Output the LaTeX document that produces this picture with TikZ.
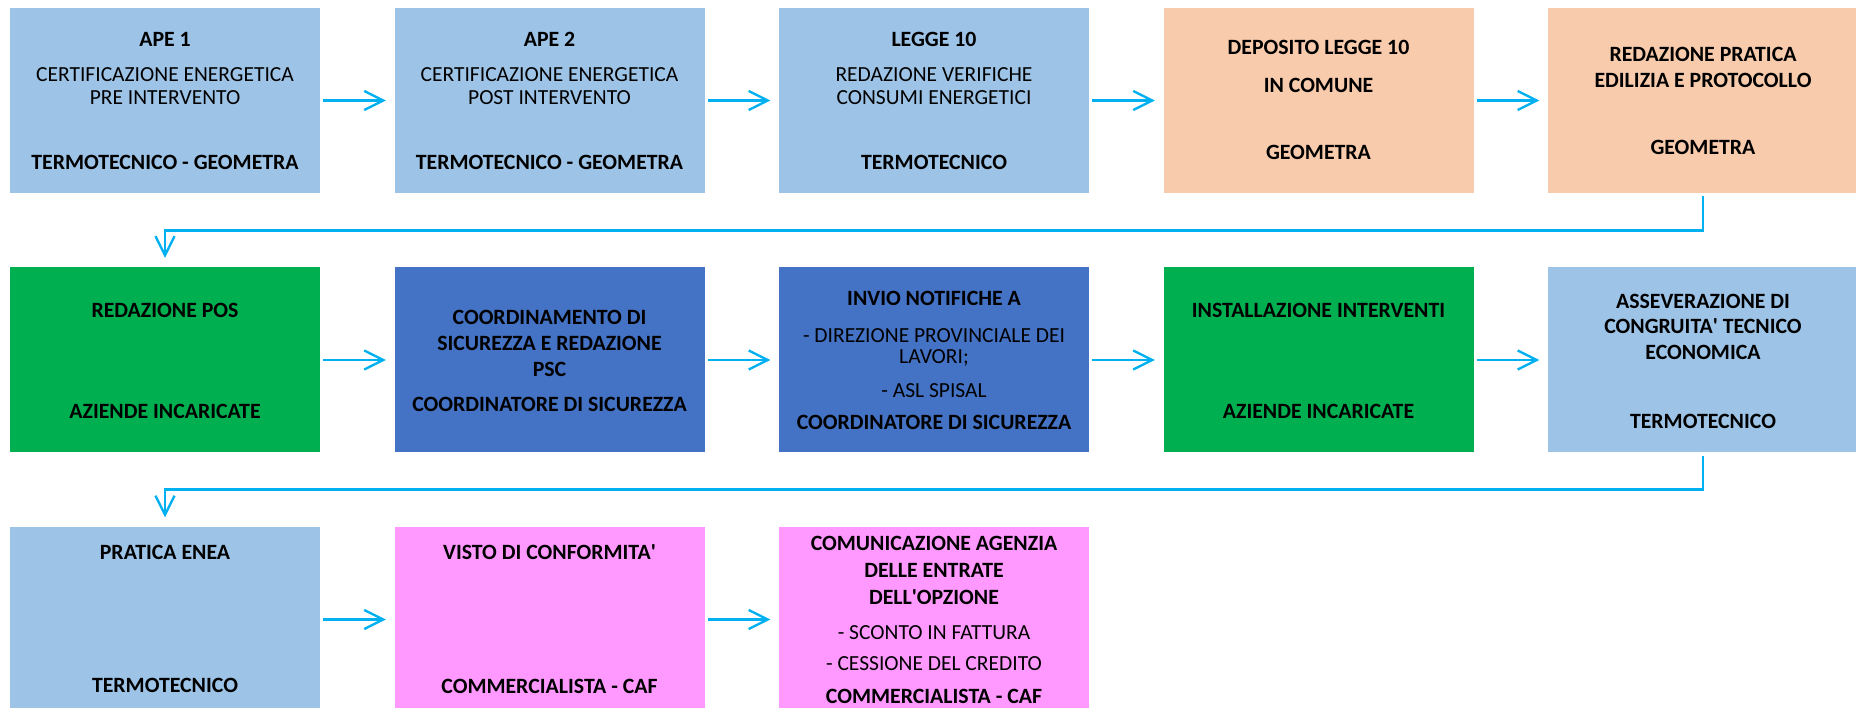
\documentclass[tikz,border=0pt]{standalone}
\usepackage{fontspec}
\setmainfont{Carlito}
\usetikzlibrary{arrows.meta}
\definecolor{lb}{HTML}{9DC3E6}
\definecolor{peach}{HTML}{F8CBAD}
\definecolor{grn}{HTML}{00B050}
\definecolor{blu}{HTML}{4472C4}
\definecolor{pnk}{HTML}{FF99FF}
\definecolor{cy}{HTML}{00B0F0}
\tikzset{
  box/.style={minimum width=310pt,minimum height=185pt,inner sep=0pt,draw=none},
  txt/.style={inner sep=0pt,text height=13.8pt,text depth=0pt,anchor=center,font=\fontsize{21.5pt}{25pt}\selectfont},
  tb/.style={txt,font=\fontsize{21.8pt}{25pt}\selectfont\bfseries},
  tr/.style={txt},
  conn/.style={draw=cy,line width=2.7pt,-{Straight Barb[length=19pt,width=19pt,line width=2.3pt]}},
  hconn/.style={conn,shorten <=3pt,shorten >=8.5pt},
  vconn/.style={conn,shorten <=3pt,shorten >=9.5pt}
}
\newcommand\TB[4]{\node[tb] (#1) at (#2,#3) {#4};}
\newcommand\TR[4]{\node[tr] (#1) at (#2,#3) {#4};}
\begin{document}
\begin{tikzpicture}[x=1pt,y=-1pt]
\useasboundingbox (0,0) rectangle (1856,708);
% row 1
\node[box,fill=lb] (a1) at (165,100.5) {};
\node[box,fill=lb] (a2) at (549.5,100.5) {};
\node[box,fill=lb] (a3) at (934,100.5) {};
\node[box,fill=peach] (a4) at (1318.5,100.5) {};
\node[box,fill=peach] (a5) at (1703,100.5) {};
% row 2
\node[box,fill=grn] (b1) at (165,360) {};
\node[box,fill=blu] (b2) at (549.5,360) {};
\node[box,fill=blu] (b3) at (934,360) {};
\node[box,fill=grn] (b4) at (1318.5,360) {};
\node[box,fill=lb] (b5) at (1703,360) {};
% row 3
\node[box,fill=lb] (c1) at (165,619.5) {};
\node[box,fill=pnk] (c2) at (549.5,619.5) {};
\node[box,fill=pnk] (c3) at (934,619.5) {};
% connectors
\draw[hconn] (a1) -- (a2);
\draw[hconn] (a2) -- (a3);
\draw[hconn] (a3) -- (a4);
\draw[hconn] (a4) -- (a5);
\draw[hconn] (b1) -- (b2);
\draw[hconn] (b2) -- (b3);
\draw[hconn] (b3) -- (b4);
\draw[hconn] (b4) -- (b5);
\draw[hconn] (c1) -- (c2);
\draw[hconn] (c2) -- (c3);
\draw[vconn] (a5.south) -- ++(0,37) -| (b1.north);
\draw[vconn] (b5.south) -- ++(0,36.5) -| (c1.north);
% texts row 1
\TB{a1t}{165}{40}{APE 1}
\TR{a1d}{165}{75}{CERTIFICAZIONE ENERGETICA}
\TR{a1e}{165}{98}{PRE INTERVENTO}
\TB{a1r}{165}{163}{TERMOTECNICO - GEOMETRA}
\TB{a2t}{549.5}{40}{APE 2}
\TR{a2d}{549.5}{75}{CERTIFICAZIONE ENERGETICA}
\TR{a2e}{549.5}{98}{POST INTERVENTO}
\TB{a2r}{549.5}{163}{TERMOTECNICO - GEOMETRA}
\TB{a3t}{934}{40}{LEGGE 10}
\TR{a3d}{934}{75}{REDAZIONE VERIFICHE}
\TR{a3e}{934}{98}{CONSUMI ENERGETICI}
\TB{a3r}{934}{163}{TERMOTECNICO}
\TB{a4t}{1318.5}{48}{DEPOSITO LEGGE 10}
\TB{a4u}{1318.5}{86}{IN COMUNE}
\TB{a4r}{1318.5}{153}{GEOMETRA}
\TB{a5t}{1703}{55}{REDAZIONE PRATICA}
\TB{a5u}{1703}{81}{EDILIZIA E PROTOCOLLO}
\TB{a5r}{1703}{148}{GEOMETRA}
% texts row 2
\TB{b1t}{165}{311}{REDAZIONE POS}
\TB{b1r}{165}{412}{AZIENDE INCARICATE}
\TB{b2t}{549.5}{318}{COORDINAMENTO DI}
\TB{b2u}{549.5}{344}{SICUREZZA E REDAZIONE}
\TB{b2v}{549.5}{370}{PSC}
\TB{b2r}{549.5}{405}{COORDINATORE DI SICUREZZA}
\TB{b3t}{934}{299}{INVIO NOTIFICHE A}
\TR{b3d}{934}{336}{- DIREZIONE PROVINCIALE DEI}
\TR{b3e}{934}{357}{LAVORI;}
\TR{b3f}{934}{391}{- ASL SPISAL}
\TB{b3r}{934}{423}{COORDINATORE DI SICUREZZA}
\TB{b4t}{1318.5}{311}{INSTALLAZIONE INTERVENTI}
\TB{b4r}{1318.5}{412}{AZIENDE INCARICATE}
\TB{b5t}{1703}{302}{ASSEVERAZIONE DI}
\TB{b5u}{1703}{327}{CONGRUITA\textquotesingle{} TECNICO}
\TB{b5v}{1703}{353}{ECONOMICA}
\TB{b5r}{1703}{422}{TERMOTECNICO}
% texts row 3
\TB{c1t}{165}{553}{PRATICA ENEA}
\TB{c1r}{165}{686}{TERMOTECNICO}
\TB{c2t}{549.5}{553}{VISTO DI CONFORMITA\textquotesingle}
\TB{c2r}{549.5}{687}{COMMERCIALISTA - CAF}
\TB{c3t}{934}{544}{COMUNICAZIONE AGENZIA}
\TB{c3u}{934}{571}{DELLE ENTRATE}
\TB{c3v}{934}{598}{DELL\textquotesingle{}OPZIONE}
\TR{c3d}{934}{633}{- SCONTO IN FATTURA}
\TR{c3e}{934}{664}{- CESSIONE DEL CREDITO}
\TB{c3r}{934}{697}{COMMERCIALISTA - CAF}
\end{tikzpicture}
\end{document}
